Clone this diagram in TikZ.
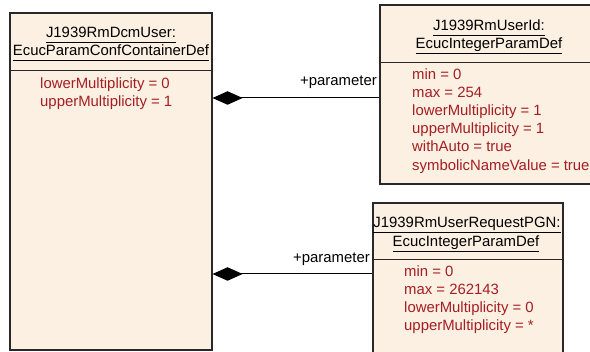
\documentclass[tikz,border=0pt]{standalone}
\usepackage{fontspec}
\setmainfont{Liberation Sans}
\usetikzlibrary{arrows.meta,shadows}
\definecolor{boxfill}{RGB}{251,240,226}
\definecolor{attrred}{RGB}{165,30,35}
\definecolor{edgegray}{RGB}{40,40,40}
\newcommand{\ulx}[1]{\setbox0\hbox{#1}\rlap{\rule[-4.5pt]{\wd0}{0.9pt}}\box0}
\tikzset{
  umlbox/.style={draw=edgegray, line width=1.1pt, fill=boxfill, inner sep=0pt,
    drop shadow={shadow xshift=1.4pt, shadow yshift=-1.4pt, fill=black!45, opacity=0.7}},
  divider/.style={draw=edgegray, line width=0.9pt},
  title/.style={anchor=base, inner sep=0pt, text=black},
  attr/.style={anchor=base west, inner sep=0pt, text=attrred},
  lbl/.style={anchor=base east, inner sep=0pt, text=black},
  comp/.style={draw=black, line width=1pt, {Diamond[length=30pt,width=13.5pt]}-},
}
\begin{document}
\begin{tikzpicture}[x=1pt,y=-1pt, font=\fontsize{14.9}{18}\selectfont]
\useasboundingbox (0,0) rectangle (590,352);
% boxes
\node[umlbox, minimum width=202pt, minimum height=337pt] (user) at (111,181.5) {};
\node[umlbox, minimum width=218pt, minimum height=179pt] (uid) at (489,94.5) {};
\node[umlbox, minimum width=190pt, minimum height=160pt] (pgn) at (468,283) {};
% dividers
\coordinate (d1) at (0,70);
\coordinate (d2) at (0,62);
\coordinate (d3) at (0,259);
\draw[divider] (user.west |- d1) -- (user.east |- d1);
\draw[divider] (uid.west |- d2) -- (uid.east |- d2);
\draw[divider] (pgn.west |- d3) -- (pgn.east |- d3);
% titles
\node[title] (t1a) at (111,38) {\ulx{J1939RmDcmUser:}};
\node[title] (t1b) at (111,56) {\ulx{EcucParamConfContainerDef}};
\node[title] (t2a) at (489,31) {\ulx{J1939RmUserId:}};
\node[title] (t2b) at (489,49) {\ulx{EcucIntegerParamDef}};
\node[title] (t3a) at (467,228) {\ulx{J1939RmUserRequestPGN:}};
\node[title] (t3b) at (466,247) {\ulx{EcucIntegerParamDef}};
% attributes
\node[attr] (a11) at (40,89) {lowerMultiplicity = 0};
\node[attr] (a12) at (40,107) {upperMultiplicity = 1};
\node[attr] (a21) at (412,80) {min = 0};
\node[attr] (a22) at (412,98) {max = 254};
\node[attr] (a23) at (412,116) {lowerMultiplicity = 1};
\node[attr] (a24) at (412,134) {upperMultiplicity = 1};
\node[attr] (a25) at (412,152) {withAuto = true};
\node[attr] (a26) at (412,171) {symbolicNameValue = true};
\node[attr] (a31) at (404,277) {min = 0};
\node[attr] (a32) at (404,295) {max = 262143};
\node[attr] (a33) at (404,313) {lowerMultiplicity = 0};
\node[attr] (a34) at (404,331) {upperMultiplicity = *};
% connectors
\coordinate (c1) at (0,98);
\coordinate (c2) at (0,274);
\draw[comp] (user.east |- c1) -- (uid.west |- c1);
\draw[comp] (user.east |- c2) -- (pgn.west |- c2);
\node[lbl] (l1) at (377,86) {+parameter};
\node[lbl] (l2) at (370,263) {+parameter};
\end{tikzpicture}
\end{document}
